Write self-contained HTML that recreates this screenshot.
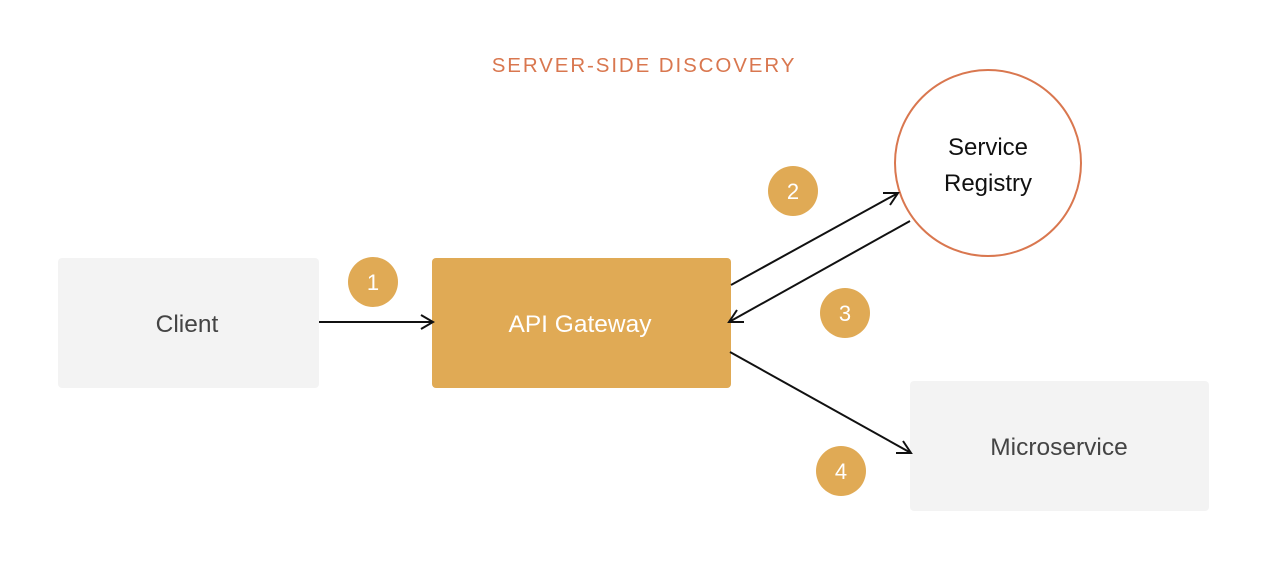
<!DOCTYPE html>
<html><head><style>
body{margin:0;background:#fff;}
svg{display:block}
</style></head><body>
<svg width="1264" height="562" viewBox="0 0 1264 562" xmlns="http://www.w3.org/2000/svg">
<text x="644" y="72" text-anchor="middle" font-family="Liberation Sans, sans-serif" font-size="20.5" letter-spacing="1.9" fill="#d9774f">SERVER-SIDE DISCOVERY</text>
<rect x="58" y="258" width="261" height="130" rx="4" fill="#f3f3f3"/>
<text x="187" y="332" text-anchor="middle" font-family="Liberation Sans, sans-serif" font-size="24.5" fill="#444">Client</text>
<rect x="432" y="258" width="299" height="130" rx="4" fill="#e0aa55"/>
<text x="580" y="332" text-anchor="middle" font-family="Liberation Sans, sans-serif" font-size="24.5" fill="#fff">API Gateway</text>
<rect x="910" y="381" width="299" height="130" rx="4" fill="#f3f3f3"/>
<text x="1059" y="455" text-anchor="middle" font-family="Liberation Sans, sans-serif" font-size="24.5" fill="#444">Microservice</text>
<circle cx="988" cy="163" r="93" fill="#fff" stroke="#d9774f" stroke-width="2"/>
<text x="988" y="155" text-anchor="middle" font-family="Liberation Sans, sans-serif" font-size="24" fill="#111">Service</text>
<text x="988" y="191" text-anchor="middle" font-family="Liberation Sans, sans-serif" font-size="24" fill="#111">Registry</text>
<g stroke="#111" stroke-width="2" fill="none">
<line x1="319" y1="322" x2="433" y2="322"/><polyline points="421,315 433,322 421,329"/>
<line x1="731" y1="285" x2="898" y2="193"/><polyline points="883,193 898,193 890,205"/>
<line x1="910" y1="221" x2="729" y2="322"/><polyline points="737,310 729,322 744,322"/>
<line x1="730" y1="352" x2="911" y2="453"/><polyline points="896,453 911,453 903,441"/>
</g>
<g fill="#e0aa55"><circle cx="373" cy="282" r="25"/><circle cx="793" cy="191" r="25"/><circle cx="845" cy="313" r="25"/><circle cx="841" cy="471" r="25"/></g>
<g font-family="Liberation Sans, sans-serif" font-size="22" fill="#fff" text-anchor="middle">
<text x="373" y="290">1</text><text x="793" y="199">2</text><text x="845" y="321">3</text><text x="841" y="479">4</text>
</g>
</svg>
</body></html>
